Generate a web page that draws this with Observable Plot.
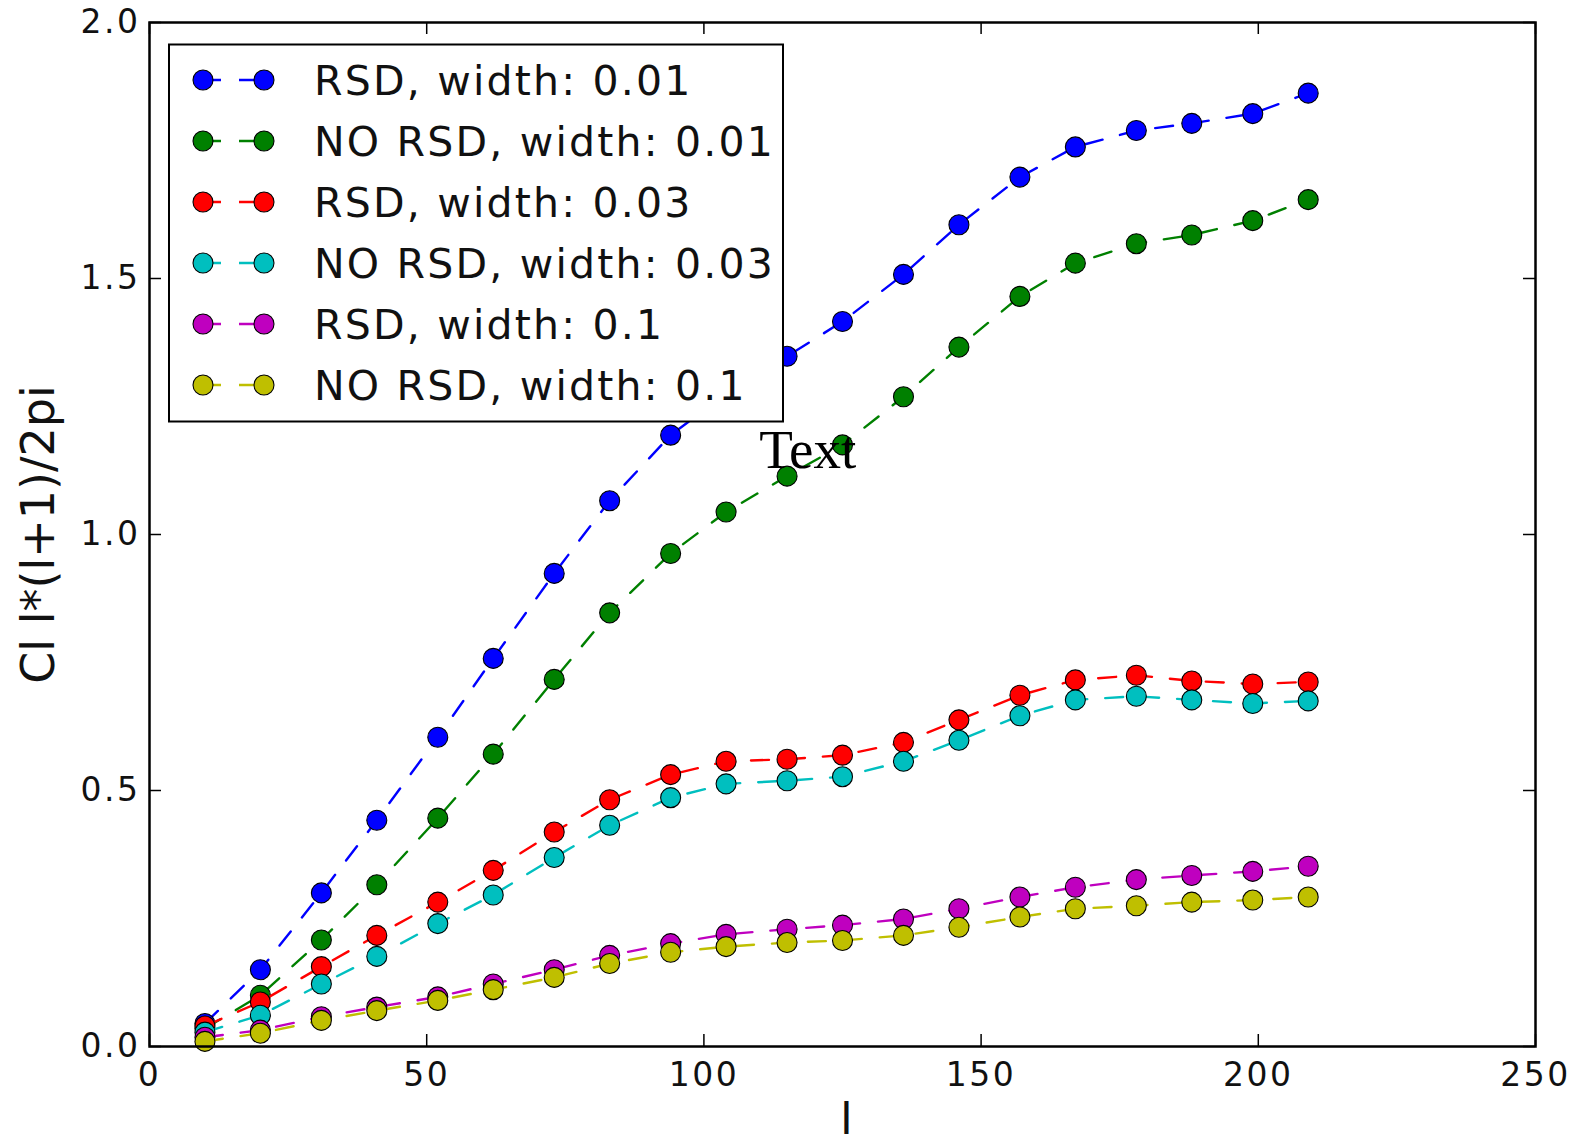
<!DOCTYPE html>
<html>
<head>
<meta charset="utf-8">
<script src="https://cdn.jsdelivr.net/npm/d3@7"></script>
<script src="https://cdn.jsdelivr.net/npm/@observablehq/plot@0.6"></script>
<style>
  html, body { margin: 0; padding: 0; background: #fff; }
  #chart svg { display: block; }
  #chart g[aria-label="x-axis tick label"],
  #chart g[aria-label="y-axis tick label"] { letter-spacing: 2.5px; }
  #chart .legend text { letter-spacing: 2.2px; }
</style>
</head>
<body>
<div id="chart"></div>
<script>
// Multipole l at which each spectrum was sampled
const ells = [10, 20, 31, 41, 52, 62, 73, 83, 94, 104, 115, 125, 136, 146, 157, 167, 178, 188, 199, 209];

// Cl l(l+1)/2pi for each bin width, with and without redshift-space distortions
const rsdWidth001   = [0.045, 0.150, 0.300, 0.442, 0.604, 0.758, 0.924, 1.066, 1.194, 1.275, 1.348, 1.416, 1.508, 1.605, 1.698, 1.757, 1.789, 1.803, 1.822, 1.862];
const noRsdWidth001 = [0.035, 0.100, 0.208, 0.316, 0.446, 0.571, 0.717, 0.847, 0.963, 1.044, 1.114, 1.175, 1.269, 1.366, 1.465, 1.530, 1.568, 1.585, 1.613, 1.654];
const rsdWidth003   = [0.040, 0.087, 0.156, 0.217, 0.282, 0.344, 0.419, 0.482, 0.531, 0.557, 0.561, 0.569, 0.594, 0.638, 0.686, 0.716, 0.725, 0.714, 0.708, 0.712];
const noRsdWidth003 = [0.028, 0.061, 0.122, 0.176, 0.240, 0.296, 0.369, 0.432, 0.486, 0.513, 0.519, 0.527, 0.557, 0.598, 0.646, 0.677, 0.684, 0.677, 0.670, 0.675];
const rsdWidth01    = [0.018, 0.032, 0.058, 0.077, 0.097, 0.122, 0.150, 0.178, 0.201, 0.219, 0.229, 0.237, 0.249, 0.269, 0.292, 0.311, 0.326, 0.334, 0.342, 0.352];
const noRsdWidth01  = [0.010, 0.026, 0.051, 0.070, 0.090, 0.111, 0.135, 0.162, 0.184, 0.195, 0.203, 0.207, 0.217, 0.233, 0.253, 0.269, 0.275, 0.282, 0.286, 0.292];

const seriesNames = [
  "RSD, width: 0.01",
  "NO RSD, width: 0.01",
  "RSD, width: 0.03",
  "NO RSD, width: 0.03",
  "RSD, width: 0.1",
  "NO RSD, width: 0.1"
];
const seriesColors = ["#0000ff", "#008000", "#ff0000", "#00bfbf", "#bf00bf", "#bfbf00"];

const xTicks = [0, 50, 100, 150, 200, 250];
const yTicks = [0, 0.5, 1, 1.5, 2];

const xLabel = "l";
const yLabel = "Cl l*(l+1)/2pi";
const notes = [{label: "Text", l: 110, value: 1.13}];

// Long table built from the arrays above
const seriesValues = [rsdWidth001, noRsdWidth001, rsdWidth003, noRsdWidth003, rsdWidth01, noRsdWidth01];
const rows = seriesNames.flatMap((name, s) =>
  ells.map((l, i) => ({series: name, l, value: seriesValues[s][i]}))
);

// Layout
const W = 1585, H = 1134;
const mL = 149, mR = 50, mT = 22, mB = 88;
const frameW = W - mL - mR, frameH = H - mT - mB;
const tickLen = 12;
const sans = "'DejaVu Sans', 'Bitstream Vera Sans', sans-serif";
const dash = "18,18";

// Each series: dashed line first, then its markers, so later series sit on top
const seriesMarks = seriesNames.flatMap((name) => {
  const d = rows.filter(r => r.series === name);
  return [
    Plot.line(d, {x: "l", y: "value", stroke: "series", strokeWidth: 2.4, strokeDasharray: dash}),
    Plot.dot(d, {x: "l", y: "value", r: 10, fill: "series", stroke: "#000", strokeWidth: 1.1})
  ];
});

const chart = Plot.plot({
  width: W,
  height: H,
  marginLeft: mL,
  marginRight: mR,
  marginTop: mT,
  marginBottom: mB,
  style: {background: "#fff", fontFamily: sans, color: "#000"},
  x: {domain: [0, 250]},
  y: {domain: [0, 2]},
  color: {domain: seriesNames, range: seriesColors},
  marks: [
    ...seriesMarks,
    // inward ticks on all four sides
    Plot.tickX(xTicks, {x: d => d, insetTop: frameH - tickLen, stroke: "#000", strokeWidth: 1.5}),
    Plot.tickX(xTicks, {x: d => d, insetBottom: frameH - tickLen, stroke: "#000", strokeWidth: 1.5}),
    Plot.tickY(yTicks, {y: d => d, insetRight: frameW - tickLen, stroke: "#000", strokeWidth: 1.5}),
    Plot.tickY(yTicks, {y: d => d, insetLeft: frameW - tickLen, stroke: "#000", strokeWidth: 1.5}),
    Plot.axisX(xTicks, {tickSize: 0, tickPadding: 16, fontSize: 33, label: null, tickFormat: d => String(d), fill: "#111"}),
    Plot.axisY(yTicks, {tickSize: 0, tickPadding: 9, fontSize: 33, label: null, tickFormat: d3.format(".1f"), fill: "#111"}),
    Plot.frame({stroke: "#000", strokeWidth: 2.5}),
    Plot.text([yLabel], {frameAnchor: "left", dx: -96, rotate: -90, textAnchor: "middle", lineAnchor: "bottom", fontSize: 46, fill: "#111"}),
    Plot.text([xLabel], {frameAnchor: "bottom", dx: 4, dy: 89, textAnchor: "middle", lineAnchor: "bottom", fontSize: 46, fill: "#111"}),
    Plot.text(notes, {x: "l", y: "value", text: "label", textAnchor: "start", lineAnchor: "bottom",
      fontFamily: "'Liberation Serif', 'Times New Roman', serif", fontSize: 55, fill: "#000"})
  ]
});

document.getElementById("chart").appendChild(chart);

// Legend box in the upper-left corner of the axes
const legendX = mL + 20, legendY = mT + 22.5, legendW = 614, legendH = 377;
const rowTop = legendY + 35.5, rowStep = 61;
const sym1 = legendX + 34, sym2 = legendX + 95, textX = legendX + 145;
const color = chart.scale("color");

const legend = d3.select(chart).append("g").attr("class", "legend").attr("text-anchor", "start");
legend.append("rect")
  .attr("x", legendX).attr("y", legendY)
  .attr("width", legendW).attr("height", legendH)
  .attr("fill", "#fff").attr("stroke", "#000").attr("stroke-width", 2);

seriesNames.forEach((name, i) => {
  const cy = rowTop + i * rowStep;
  const c = color.apply(name);
  legend.append("line")
    .attr("x1", sym1).attr("x2", sym2).attr("y1", cy).attr("y2", cy)
    .attr("stroke", c).attr("stroke-width", 2.4).attr("stroke-dasharray", dash);
  [sym1, sym2].forEach(cx => {
    legend.append("circle")
      .attr("cx", cx).attr("cy", cy).attr("r", 10)
      .attr("fill", c).attr("stroke", "#000").attr("stroke-width", 1.1);
  });
  legend.append("text")
    .attr("x", textX).attr("y", cy + 14.5)
    .attr("text-anchor", "start")
    .attr("font-family", sans).attr("font-size", 41).attr("fill", "#111")
    .text(name);
});
</script>
</body>
</html>
